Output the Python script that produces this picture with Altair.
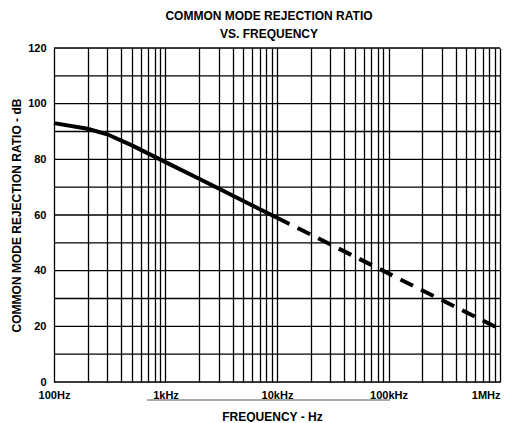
import altair as alt
import pandas as pd

# Data
freq_solid = [100, 200, 300, 500, 1000, 2000, 3000, 5000, 10000]
db_solid = [93, 91, 89, 85, 79, 73, 69.5, 65, 59]
freq_dash = [10000, 100000, 1000000]
db_dash = [59, 39, 19]

grid_x = [m * 10 ** e for e in range(2, 6) for m in range(1, 10)] + [1000000]
y_ticks = [0, 20, 40, 60, 80, 100, 120]
y_grid = list(range(0, 130, 10))

FONT = "Liberation Sans"

df = pd.DataFrame({
    "f": freq_solid + freq_dash,
    "db": db_solid + db_dash,
    "seg": ["solid"] * len(freq_solid) + ["dash"] * len(freq_dash),
})

xscale = alt.Scale(type="log", domain=[100, 1000000], nice=False)
yscale = alt.Scale(domain=[0, 120], nice=False)

label_expr = ("datum.value == 100 ? '100Hz' : datum.value == 1000 ? '1kHz' : "
              "datum.value == 10000 ? '10kHz' : datum.value == 100000 ? '100kHz' : "
              "datum.value == 1000000 ? '1MHz' : ''")

base = alt.Chart(df)

solid = base.transform_filter(alt.datum.seg == "solid").mark_line(
    color="black", strokeWidth=4, strokeCap="butt"
).encode(
    x=alt.X("f:Q", scale=xscale, axis=alt.Axis(
        values=grid_x, labelExpr=label_expr, grid=True, gridColor="black",
        gridWidth=1.3, gridOpacity=1, ticks=False, domain=False,
        labelFont=FONT, labelFontSize=11, labelFontWeight="bold", labelColor="black",
        labelPadding=7, labelOverlap=False, labelFlush=False,
        labelAlign=alt.condition(alt.datum.value == 1000000, alt.value("right"), alt.value("center")),
        title="FREQUENCY - Hz", titleFont=FONT, titleFontSize=12,
        titleFontWeight="bold", titleColor="black",
        titleX=218, titleY=34, titleBaseline="middle", titleAlign="center")),
    y=alt.Y("db:Q", scale=yscale, axis=alt.Axis(
        values=y_ticks, grid=False, ticks=False, domain=False,
        labelFont=FONT, labelFontSize=11, labelFontWeight="bold", labelColor="black",
        labelPadding=8,
        title="COMMON MODE REJECTION RATIO - dB", titleFont=FONT, titleFontSize=12,
        titleFontWeight="bold", titleColor="black",
        titleX=-38, titleY=167, titleBaseline="middle", titleAlign="center",
        titleAngle=270)),
)

ygrid_df = pd.DataFrame({"g": y_grid})
hgrid = alt.Chart(ygrid_df).mark_rule(color="black", strokeWidth=1.3).encode(
    y=alt.Y("g:Q", scale=yscale)
)

dash = base.transform_filter(alt.datum.seg == "dash").mark_line(
    color="black", strokeWidth=4, strokeDash=[14, 9], strokeCap="butt"
).encode(
    x=alt.X("f:Q", scale=xscale),
    y=alt.Y("db:Q", scale=yscale),
)

overline = alt.Chart(pd.DataFrame({"a": [0]})).mark_rule(
    color="#555555", strokeWidth=1
).encode(x=alt.value(93), x2=alt.value(336), y=alt.value(352))

chart = alt.layer(hgrid, solid, dash, overline).properties(
    width=446,
    height=334,
    autosize="none",
    padding={"left": 46, "top": 40, "right": 2, "bottom": 40},
    title=alt.TitleParams(
        ["COMMON MODE REJECTION RATIO", "VS. FREQUENCY"],
        font=FONT, fontSize=12, fontWeight="bold", color="black",
        lineHeight=18, offset=1, dx=-8,
    ),
).configure_view(stroke="black", strokeWidth=1.5).configure(background="white")

chart.save("out.html", embed_options={"renderer": "svg", "actions": False})
